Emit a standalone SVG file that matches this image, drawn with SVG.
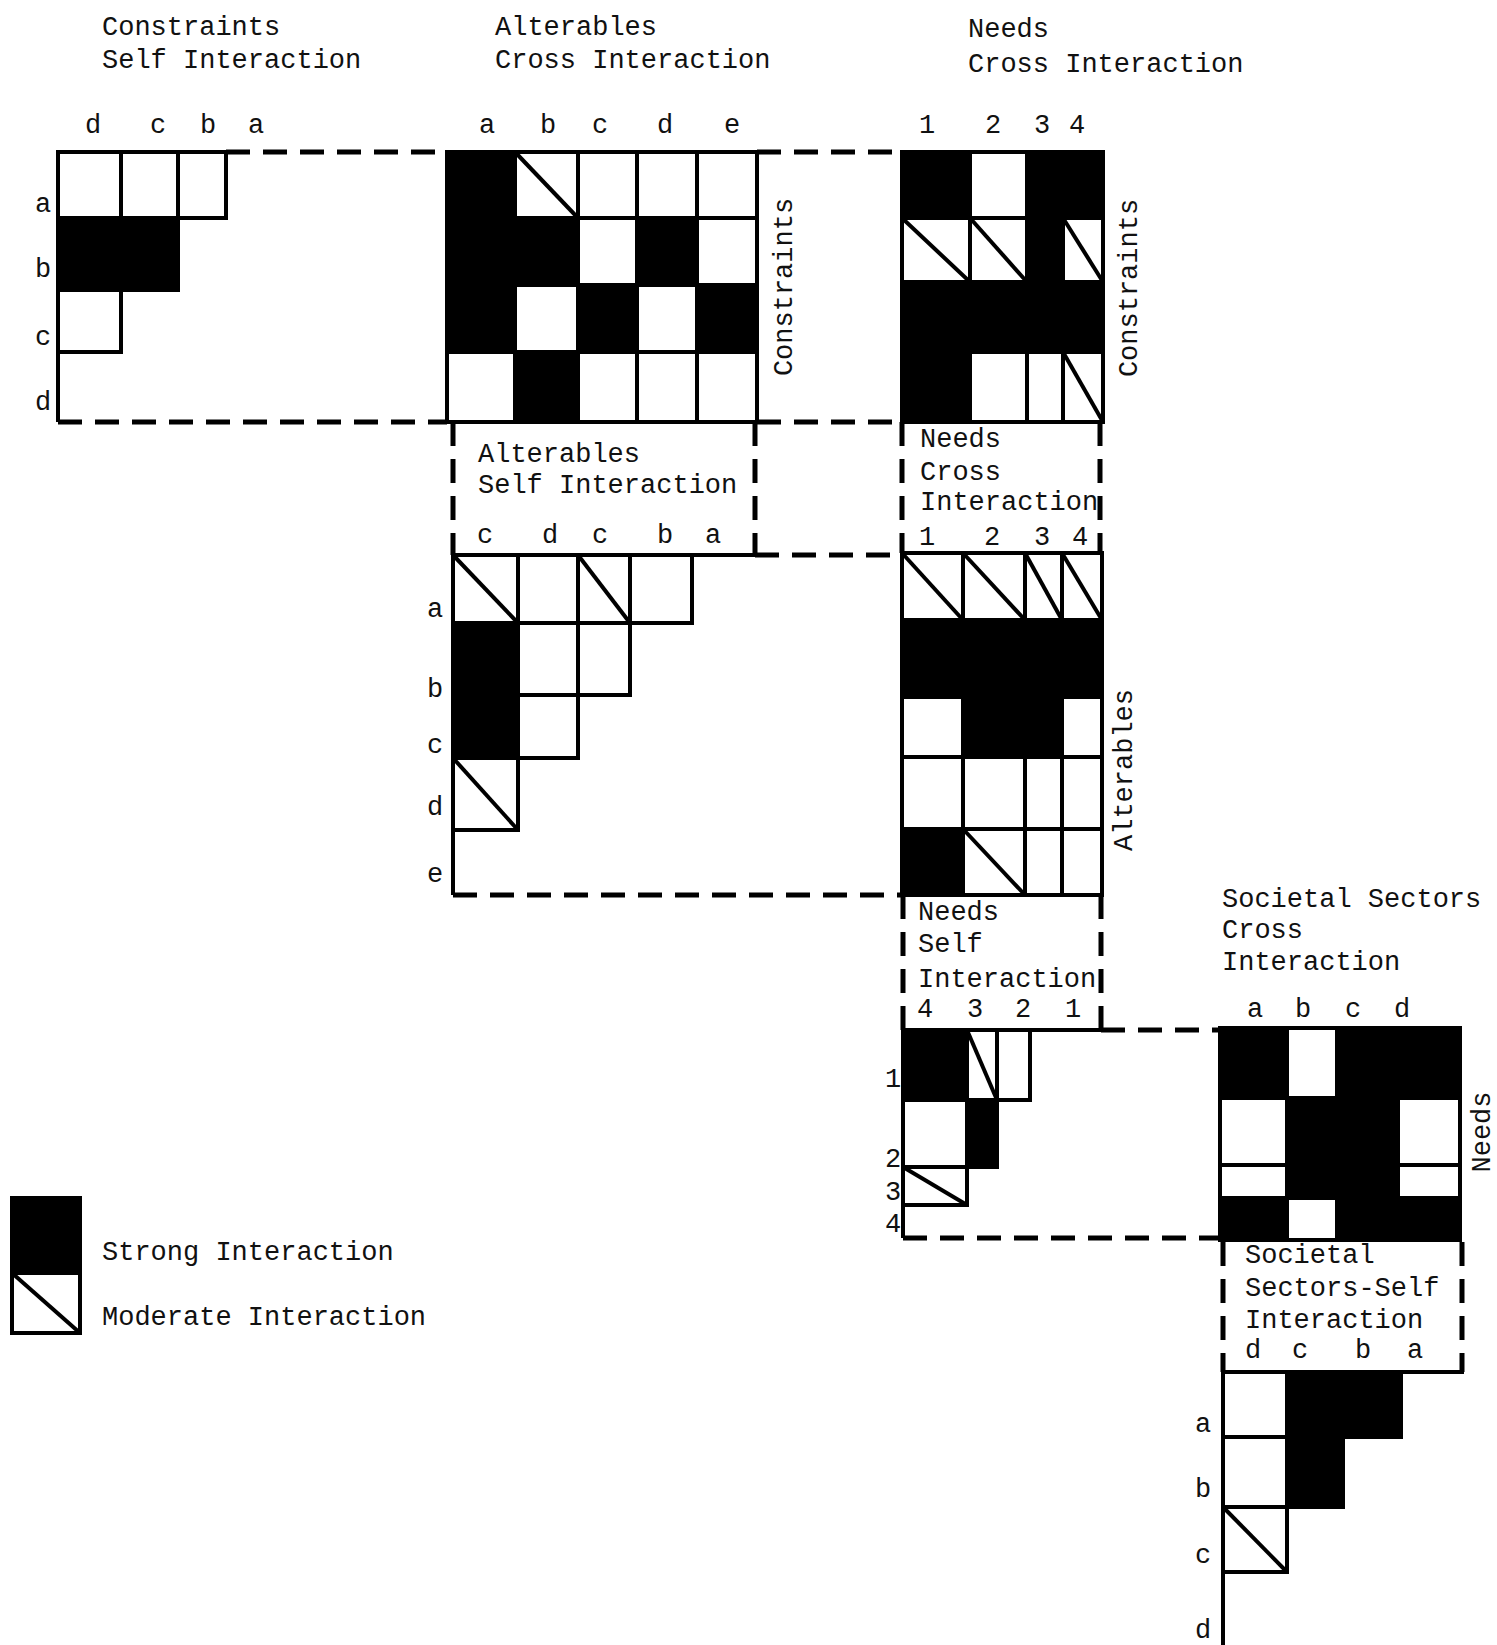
<svg xmlns="http://www.w3.org/2000/svg" width="1497" height="1645" viewBox="0 0 1497 1645">
<style>
.w{fill:#fff;stroke:#000;stroke-width:4}
.s{fill:#000;stroke:#000;stroke-width:4}
.m{fill:#fff;stroke:#000;stroke-width:4}
.g{stroke:#000;stroke-width:4;fill:none}
.dg{stroke:#000;stroke-width:4}
.d{stroke:#000;stroke-width:5;stroke-dasharray:24 13;fill:none}
text{font-family:"Liberation Mono","DejaVu Sans Mono",monospace;font-size:27px;fill:#111}
.c{text-anchor:middle}
</style>
<rect width="1497" height="1645" fill="#fff"/>

<g id="connectors">
<path class="d" d="M226,152H447M757,152H902"/>
<path class="d" d="M58,422H447M757,422H902"/>
<path class="d" d="M453,422V555M755,422V555"/>
<path class="d" d="M755,555H902"/>
<path class="d" d="M453,895H902"/>
<path class="d" d="M902,422V553M1100,422V553"/>
<path class="d" d="M903,895V1030M1101,895V1030"/>
<path class="d" d="M1101,1030H1220"/>
<path class="d" d="M903,1238H1220"/>
<path class="d" d="M1223,1242V1372M1462,1242V1372"/>
</g>

<g id="headers">
<text x="102" y="35">Constraints</text>
<text x="102" y="68">Self Interaction</text>
<text x="495" y="35">Alterables</text>
<text x="495" y="68">Cross Interaction</text>
<text x="968" y="37">Needs</text>
<text x="968" y="72">Cross Interaction</text>
</g>

<g id="constraints-self">
<rect class="w" x="58" y="152" width="63" height="66"/>
<rect class="w" x="121" y="152" width="57" height="66"/>
<rect class="w" x="178" y="152" width="48" height="66"/>
<rect class="s" x="58" y="218" width="63" height="72"/>
<rect class="s" x="121" y="218" width="57" height="72"/>
<rect class="w" x="58" y="290" width="63" height="62"/>
<path class="g" d="M58,352V422"/>
<text class="c" x="93" y="133">d</text>
<text class="c" x="158" y="133">c</text>
<text class="c" x="208" y="133">b</text>
<text class="c" x="256" y="133">a</text>
<text class="c" x="43" y="212">a</text>
<text class="c" x="43" y="277">b</text>
<text class="c" x="43" y="345">c</text>
<text class="c" x="43" y="410">d</text>
</g>

<g id="alterables-constraints-cross">
<rect class="s" x="447" y="152" width="68" height="66"/>
<rect class="m" x="515" y="152" width="63" height="66"/><line class="dg" x1="515" y1="152" x2="578" y2="218"/>
<rect class="w" x="578" y="152" width="59" height="66"/>
<rect class="w" x="637" y="152" width="60" height="66"/>
<rect class="w" x="697" y="152" width="60" height="66"/>
<rect class="s" x="447" y="218" width="68" height="67"/>
<rect class="s" x="515" y="218" width="63" height="67"/>
<rect class="w" x="578" y="218" width="59" height="67"/>
<rect class="s" x="637" y="218" width="60" height="67"/>
<rect class="w" x="697" y="218" width="60" height="67"/>
<rect class="s" x="447" y="285" width="68" height="67"/>
<rect class="w" x="515" y="285" width="63" height="67"/>
<rect class="s" x="578" y="285" width="59" height="67"/>
<rect class="w" x="637" y="285" width="60" height="67"/>
<rect class="s" x="697" y="285" width="60" height="67"/>
<rect class="w" x="447" y="352" width="68" height="70"/>
<rect class="s" x="515" y="352" width="63" height="70"/>
<rect class="w" x="578" y="352" width="59" height="70"/>
<rect class="w" x="637" y="352" width="60" height="70"/>
<rect class="w" x="697" y="352" width="60" height="70"/>
<text class="c" x="487" y="133">a</text>
<text class="c" x="548" y="133">b</text>
<text class="c" x="600" y="133">c</text>
<text class="c" x="665" y="133">d</text>
<text class="c" x="732" y="133">e</text>
<text class="c" transform="translate(792,287) rotate(-90)">Constraints</text>
</g>

<g id="needs-constraints-cross">
<rect class="s" x="902" y="152" width="68" height="66"/>
<rect class="w" x="970" y="152" width="57" height="66"/>
<rect class="s" x="1027" y="152" width="36" height="66"/>
<rect class="s" x="1063" y="152" width="40" height="66"/>
<rect class="m" x="902" y="218" width="68" height="64"/><line class="dg" x1="902" y1="218" x2="970" y2="282"/>
<rect class="m" x="970" y="218" width="57" height="64"/><line class="dg" x1="970" y1="218" x2="1027" y2="282"/>
<rect class="s" x="1027" y="218" width="36" height="64"/>
<rect class="m" x="1063" y="218" width="40" height="64"/><line class="dg" x1="1063" y1="218" x2="1103" y2="282"/>
<rect class="s" x="902" y="282" width="68" height="70"/>
<rect class="s" x="970" y="282" width="57" height="70"/>
<rect class="s" x="1027" y="282" width="36" height="70"/>
<rect class="s" x="1063" y="282" width="40" height="70"/>
<rect class="s" x="902" y="352" width="68" height="70"/>
<rect class="w" x="970" y="352" width="57" height="70"/>
<rect class="w" x="1027" y="352" width="36" height="70"/>
<rect class="m" x="1063" y="352" width="40" height="70"/><line class="dg" x1="1063" y1="352" x2="1103" y2="422"/>
<text class="c" x="927" y="133">1</text>
<text class="c" x="993" y="133">2</text>
<text class="c" x="1042" y="133">3</text>
<text class="c" x="1077" y="133">4</text>
<text class="c" transform="translate(1137,288) rotate(-90)">Constraints</text>
</g>

<g id="alterables-self">
<text x="478" y="462">Alterables</text>
<text x="478" y="493">Self Interaction</text>
<text class="c" x="485" y="543">c</text>
<text class="c" x="550" y="543">d</text>
<text class="c" x="600" y="543">c</text>
<text class="c" x="665" y="543">b</text>
<text class="c" x="713" y="543">a</text>
<path class="g" d="M692,555H757"/>
<rect class="m" x="453" y="555" width="65" height="68"/><line class="dg" x1="453" y1="555" x2="518" y2="623"/>
<rect class="w" x="518" y="555" width="60" height="68"/>
<rect class="m" x="578" y="555" width="52" height="68"/><line class="dg" x1="578" y1="555" x2="630" y2="623"/>
<rect class="w" x="630" y="555" width="62" height="68"/>
<rect class="s" x="453" y="623" width="65" height="72"/>
<rect class="w" x="518" y="623" width="60" height="72"/>
<rect class="w" x="578" y="623" width="52" height="72"/>
<rect class="s" x="453" y="695" width="65" height="63"/>
<rect class="w" x="518" y="695" width="60" height="63"/>
<rect class="m" x="453" y="758" width="65" height="72"/><line class="dg" x1="453" y1="758" x2="518" y2="830"/>
<path class="g" d="M453,830V895"/>
<text class="c" x="435" y="617">a</text>
<text class="c" x="435" y="697">b</text>
<text class="c" x="435" y="753">c</text>
<text class="c" x="435" y="815">d</text>
<text class="c" x="435" y="882">e</text>
</g>

<g id="needs-alterables-cross">
<text x="920" y="447">Needs</text>
<text x="920" y="480">Cross</text>
<text x="920" y="510">Interaction</text>
<text class="c" x="927" y="545">1</text>
<text class="c" x="992" y="545">2</text>
<text class="c" x="1042" y="545">3</text>
<text class="c" x="1080" y="545">4</text>
<rect class="m" x="902" y="553" width="61" height="67"/><line class="dg" x1="902" y1="553" x2="963" y2="620"/>
<rect class="m" x="963" y="553" width="62" height="67"/><line class="dg" x1="963" y1="553" x2="1025" y2="620"/>
<rect class="m" x="1025" y="553" width="37" height="67"/><line class="dg" x1="1025" y1="553" x2="1062" y2="620"/>
<rect class="m" x="1062" y="553" width="40" height="67"/><line class="dg" x1="1062" y1="553" x2="1102" y2="620"/>
<rect class="s" x="902" y="620" width="61" height="77"/>
<rect class="s" x="963" y="620" width="62" height="77"/>
<rect class="s" x="1025" y="620" width="37" height="77"/>
<rect class="s" x="1062" y="620" width="40" height="77"/>
<rect class="w" x="902" y="697" width="61" height="60"/>
<rect class="s" x="963" y="697" width="62" height="60"/>
<rect class="s" x="1025" y="697" width="37" height="60"/>
<rect class="w" x="1062" y="697" width="40" height="60"/>
<rect class="w" x="902" y="757" width="61" height="72"/>
<rect class="w" x="963" y="757" width="62" height="72"/>
<rect class="w" x="1025" y="757" width="37" height="72"/>
<rect class="w" x="1062" y="757" width="40" height="72"/>
<rect class="s" x="902" y="829" width="61" height="66"/>
<rect class="m" x="963" y="829" width="62" height="66"/><line class="dg" x1="963" y1="829" x2="1025" y2="895"/>
<rect class="w" x="1025" y="829" width="37" height="66"/>
<rect class="w" x="1062" y="829" width="40" height="66"/>
<text class="c" transform="translate(1132,770) rotate(-90)">Alterables</text>
</g>

<g id="needs-self">
<text x="918" y="920">Needs</text>
<text x="918" y="952">Self</text>
<text x="918" y="987">Interaction</text>
<text class="c" x="925" y="1017">4</text>
<text class="c" x="975" y="1017">3</text>
<text class="c" x="1023" y="1017">2</text>
<text class="c" x="1073" y="1017">1</text>
<path class="g" d="M1030,1030H1101"/>
<rect class="s" x="903" y="1030" width="64" height="70"/>
<rect class="m" x="967" y="1030" width="30" height="70"/><line class="dg" x1="967" y1="1030" x2="997" y2="1100"/>
<rect class="w" x="997" y="1030" width="33" height="70"/>
<rect class="w" x="903" y="1100" width="64" height="67"/>
<rect class="s" x="967" y="1100" width="30" height="67"/>
<rect class="m" x="903" y="1167" width="64" height="38"/><line class="dg" x1="903" y1="1167" x2="967" y2="1205"/>
<path class="g" d="M903,1205V1238"/>
<text class="c" x="893" y="1087" font-size="29">1</text>
<text class="c" x="893" y="1167" font-size="29">2</text>
<text class="c" x="893" y="1200" font-size="29">3</text>
<text class="c" x="893" y="1232" font-size="29">4</text>
</g>

<g id="societal-needs-cross">
<text x="1222" y="907">Societal Sectors</text>
<text x="1222" y="938">Cross</text>
<text x="1222" y="970">Interaction</text>
<text class="c" x="1255" y="1017">a</text>
<text class="c" x="1303" y="1017">b</text>
<text class="c" x="1353" y="1017">c</text>
<text class="c" x="1402" y="1017">d</text>
<rect class="s" x="1220" y="1028" width="67" height="70"/>
<rect class="w" x="1287" y="1028" width="50" height="70"/>
<rect class="s" x="1337" y="1028" width="61" height="70"/>
<rect class="s" x="1398" y="1028" width="62" height="70"/>
<rect class="w" x="1220" y="1098" width="67" height="67"/>
<rect class="s" x="1287" y="1098" width="50" height="67"/>
<rect class="s" x="1337" y="1098" width="61" height="67"/>
<rect class="w" x="1398" y="1098" width="62" height="67"/>
<rect class="w" x="1220" y="1165" width="67" height="33"/>
<rect class="s" x="1287" y="1165" width="50" height="33"/>
<rect class="s" x="1337" y="1165" width="61" height="33"/>
<rect class="w" x="1398" y="1165" width="62" height="33"/>
<rect class="s" x="1220" y="1198" width="67" height="42"/>
<rect class="w" x="1287" y="1198" width="50" height="42"/>
<rect class="s" x="1337" y="1198" width="61" height="42"/>
<rect class="s" x="1398" y="1198" width="62" height="42"/>
<text class="c" transform="translate(1490,1132) rotate(-90)">Needs</text>
</g>

<g id="societal-self">
<text x="1245" y="1263">Societal</text>
<text x="1245" y="1296">Sectors-Self</text>
<text x="1245" y="1328">Interaction</text>
<text class="c" x="1253" y="1358">d</text>
<text class="c" x="1300" y="1358">c</text>
<text class="c" x="1363" y="1358">b</text>
<text class="c" x="1415" y="1358">a</text>
<path class="g" d="M1401,1372H1464"/>
<rect class="w" x="1223" y="1372" width="64" height="65"/>
<rect class="s" x="1287" y="1372" width="56" height="65"/>
<rect class="s" x="1343" y="1372" width="58" height="65"/>
<rect class="w" x="1223" y="1437" width="64" height="70"/>
<rect class="s" x="1287" y="1437" width="56" height="70"/>
<rect class="m" x="1223" y="1507" width="64" height="65"/><line class="dg" x1="1223" y1="1507" x2="1287" y2="1572"/>
<path class="g" d="M1223,1572V1645"/>
<text class="c" x="1203" y="1432">a</text>
<text class="c" x="1203" y="1497">b</text>
<text class="c" x="1203" y="1563">c</text>
<text class="c" x="1203" y="1638">d</text>
</g>

<g id="legend">
<rect class="s" x="12" y="1198" width="68" height="75"/>
<rect class="m" x="12" y="1273" width="68" height="60"/><line class="dg" x1="12" y1="1273" x2="80" y2="1333"/>
<text x="102" y="1260">Strong Interaction</text>
<text x="102" y="1325">Moderate Interaction</text>
</g>
</svg>
